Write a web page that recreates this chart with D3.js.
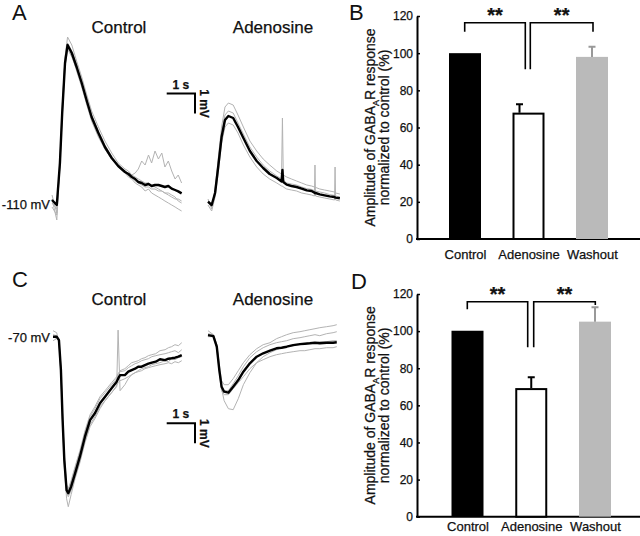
<!DOCTYPE html>
<html><head><meta charset="utf-8">
<script src="https://cdn.jsdelivr.net/npm/d3@7"></script>
<style>
html,body{margin:0;padding:0;background:#fff;}
svg{display:block;font-family:"Liberation Sans",Arial,sans-serif;}
svg text{fill:#111;stroke:#111;stroke-width:0.25px;}
</style></head>
<body><svg id="c" width="640" height="536"></svg>
<script>
// ---------- DATA ----------
// Panel A control (time s, mV relative to -110 mV)
const tAc = [0,0.17,0.28,0.36,0.46,0.55,0.70,0.87,1.05,1.23,1.40,1.64,1.87,2.11,2.34,2.58,2.70,2.82,2.94,3.05,3.17,3.29,3.41,3.52,3.64,3.76,3.88,3.99,4.11,4.23,4.35,4.46,4.58];
const meanAc = [0.15,-0.1,2.0,4.5,7.0,7.9,7.5,6.8,6.0,5.1,4.3,3.5,2.8,2.25,1.85,1.55,1.45,1.3,1.2,1.05,1.0,0.9,0.95,0.85,0.9,0.9,0.85,0.8,0.85,0.72,0.65,0.58,0.48];
const grayAc1 = [0.4,-0.5,1.8,4.6,7.3,8.3,7.9,7.1,6.3,5.4,4.6,3.8,3.1,2.5,2.0,1.7,1.6,1.4,1.3,1.2,1.1,1.0,1.0,0.9,0.8,0.7,0.6,0.5,0.4,0.3,0.2,0.2,0.1];
const grayAc2 = [0.2,-0.85,2.1,4.4,6.9,7.8,7.4,6.6,5.8,4.9,4.1,3.3,2.7,2.2,1.9,1.6,1.5,1.4,1.5,1.7,2.1,1.9,2.4,2.0,2.6,2.2,2.5,1.8,2.1,1.6,1.2,1.4,1.0];
const grayAc3 = [-0.2,-0.6,2.2,4.8,7.2,8.0,7.6,6.9,6.1,5.2,4.4,3.6,2.9,2.3,1.9,1.5,1.3,1.2,1.0,0.9,0.8,0.6,0.7,0.5,0.4,0.3,0.2,0.1,0.0,-0.1,-0.2,-0.3,-0.4];
const grayAc4 = [0.0,-0.3,1.9,4.3,6.8,7.7,7.3,6.7,5.9,5.0,4.2,3.4,2.7,2.2,1.8,1.5,1.4,1.3,1.1,1.0,0.9,0.8,0.8,0.7,0.7,0.6,0.6,0.5,0.5,0.4,0.3,0.1,0.0];

// Panel A adenosine
const tAa = [0,0.13,0.25,0.36,0.48,0.60,0.72,0.89,1.06,1.25,1.48,1.72,1.95,2.18,2.43,2.60,2.63,2.66,2.78,2.95,3.13,3.31,3.49,3.66,3.76,3.78,3.80,3.95,4.12,4.30,4.47,4.49,4.51,4.66];
const meanAa = [0.07,-0.1,0.5,1.8,3.3,4.15,4.35,4.25,3.8,3.25,2.6,2.1,1.75,1.45,1.25,1.08,1.65,1.05,0.92,0.85,0.8,0.72,0.63,0.6,0.52,0.5,0.5,0.43,0.38,0.33,0.3,0.28,0.27,0.24];
const grayAa1 = [0.2,-0.3,0.7,2.2,3.8,4.8,5.0,4.9,4.4,3.8,3.1,2.6,2.2,1.9,1.6,1.45,4.25,1.4,1.3,1.2,1.1,1.0,0.9,0.85,0.8,0.8,0.78,0.7,0.65,0.6,0.55,0.55,0.5,0.45];
const grayAa2 = [-0.1,-0.4,0.3,1.5,3.0,3.8,4.0,3.9,3.5,2.9,2.3,1.8,1.45,1.2,1.0,0.85,0.85,0.8,0.7,0.65,0.6,0.5,0.45,0.4,0.35,1.9,0.35,0.3,0.25,0.2,0.15,1.8,0.15,0.1];
const grayAa3 = [0.0,-0.2,0.6,2.0,3.5,4.4,4.6,4.5,4.0,3.45,2.8,2.3,1.9,1.6,1.35,1.2,1.2,1.15,1.0,0.95,0.9,0.8,0.72,0.68,0.62,0.6,0.6,0.55,0.5,0.42,0.38,0.38,0.35,0.3];

// Panel C control (mV relative to -70 mV)
const tCc = [0,0.13,0.21,0.28,0.34,0.40,0.48,0.54,0.64,0.78,0.95,1.13,1.31,1.48,1.66,1.84,2.07,2.25,2.30,2.37,2.54,2.66,2.78,2.90,3.01,3.13,3.25,3.37,3.49,3.63,3.78,3.96,4.08,4.19,4.31,4.43,4.55];
const meanCc = [0,0,-0.17,-1.67,-4.17,-6.17,-7.67,-7.83,-7.5,-6.83,-6.0,-5.0,-4.17,-3.83,-3.33,-3.0,-2.58,-2.25,-2.1,-1.92,-1.92,-1.75,-1.67,-1.6,-1.5,-1.5,-1.42,-1.35,-1.3,-1.25,-1.13,-1.17,-1.1,-1.08,-1.05,-1.0,-0.92];
const grayCc1 = [0.3,0.2,-0.3,-1.9,-4.4,-6.5,-8.1,-8.5,-7.9,-7.1,-6.3,-5.3,-4.5,-4.1,-3.6,-3.2,-2.8,-2.5,0.33,-2.7,-2.4,-2.1,-1.9,-1.8,-1.7,-1.6,-1.55,-1.5,-1.4,-1.35,-1.3,-1.2,-1.25,-1.1,-1.15,-1.05,-1.0];
const grayCc2 = [-0.2,-0.1,-0.1,-1.5,-3.9,-5.9,-7.4,-7.6,-7.2,-6.5,-5.7,-4.7,-3.9,-3.5,-3.0,-2.7,-2.3,-2.0,-1.85,-1.7,-1.6,-1.45,-1.3,-1.25,-1.2,-1.1,-1.05,-0.95,-0.9,-0.85,-0.7,-0.65,-0.55,-0.5,-0.4,-0.45,-0.3];
const grayCc3 = [0.1,0.05,-0.25,-1.8,-4.3,-6.3,-7.8,-8.0,-7.7,-7.0,-6.2,-5.2,-4.4,-4.0,-3.5,-3.2,-2.8,-2.45,-2.3,-2.2,-2.1,-2.0,-1.9,-1.8,-1.75,-1.7,-1.6,-1.55,-1.5,-1.45,-1.4,-1.35,-1.3,-1.35,-1.25,-1.3,-1.2];
const grayCc4 = [0.0,-0.1,-0.2,-1.6,-4.0,-6.0,-7.5,-7.7,-7.3,-6.6,-5.8,-4.8,-4.0,-3.6,-3.1,-2.8,-2.4,-2.1,-1.9,-1.75,-1.7,-1.55,-1.45,-1.35,-1.3,-1.2,-1.15,-1.1,-1.0,-0.95,-0.9,-0.85,-0.8,-0.75,-0.7,-0.8,-0.65];

// Panel C adenosine
const tCa = [0,0.19,0.31,0.40,0.48,0.57,0.72,0.89,1.07,1.25,1.48,1.72,1.95,2.19,2.42,2.60,2.78,3.01,3.25,3.42,3.60,3.78,3.95,4.19,4.42,4.55];
const meanCa = [0.08,0.03,-0.5,-1.67,-2.5,-2.75,-2.8,-2.5,-2.17,-1.75,-1.33,-1.0,-0.83,-0.7,-0.58,-0.55,-0.5,-0.42,-0.37,-0.35,-0.33,-0.3,-0.33,-0.3,-0.3,-0.28];
const grayCa1 = [0.15,0.1,-0.4,-1.6,-2.6,-3.2,-3.6,-3.65,-3.1,-2.4,-1.8,-1.3,-1.0,-0.8,-0.65,-0.55,-0.5,-0.45,-0.4,-0.35,-0.3,-0.3,-0.25,-0.25,-0.2,-0.2];
const grayCa2 = [0.3,0.1,-0.4,-1.4,-2.2,-2.4,-2.4,-2.1,-1.7,-1.3,-0.9,-0.6,-0.4,-0.3,-0.1,0.0,0.1,0.2,0.25,0.3,0.35,0.4,0.45,0.5,0.55,0.6];
const grayCa3 = [0.0,0.0,-0.6,-1.8,-2.7,-2.9,-2.9,-2.6,-2.3,-2.0,-1.6,-1.3,-1.15,-1.0,-0.9,-0.85,-0.8,-0.75,-0.7,-0.7,-0.65,-0.6,-0.6,-0.55,-0.55,-0.5];
const grayCa4 = [0.1,0.05,-0.5,-1.7,-2.5,-2.7,-2.7,-2.35,-1.95,-1.5,-1.05,-0.75,-0.55,-0.4,-0.3,-0.25,-0.2,-0.1,-0.05,0.0,0.05,0.1,0.05,0.15,0.2,0.25];

// Bar charts
const categories = ["Control","Adenosine","Washout"];
const valuesB = [100, 68, 98];
const errorsB = [0, 4.5, 5.5];
const valuesD = [100.2, 69.3, 105.1];
const errorsD = [0, 5.8, 7.7];
const yTicks = [0,20,40,60,80,100,120];
const sigLabel = "**";

// ---------- DRAW ----------
const svg = d3.select("#c");
const PX_S = 28.3, PX_MV = 20;
const GRAY = "#b3b3b3";

function trace(t, vals, x0, base, color, w){
  const xs = d3.scaleLinear().domain([0,1]).range([x0, x0+PX_S]);
  const ys = d3.scaleLinear().domain([0,1]).range([base, base-PX_MV]);
  const line = d3.line().x((d,i)=>xs(t[i])).y(d=>ys(d));
  svg.append("path").attr("d", line(vals)).attr("fill","none")
    .attr("stroke", color).attr("stroke-width", w).attr("stroke-linejoin","round");
}
function traceSet(t, mean, grays, x0, base){
  grays.forEach(g=>trace(t, g, x0, base, GRAY, 1));
  trace(t, mean, x0, base, "#000", 2.4);
}
traceSet(tAc, meanAc, [grayAc1,grayAc2,grayAc3,grayAc4], 52, 203);
traceSet(tAa, meanAa, [grayAa1,grayAa2,grayAa3], 208, 203);
traceSet(tCc, meanCc, [grayCc1,grayCc2,grayCc3,grayCc4], 53, 336.7);
traceSet(tCa, meanCa, [grayCa1,grayCa2,grayCa3,grayCa4], 208, 336.7);

function scaleBar(x0, y0){
  const xs = d3.scaleLinear().domain([0,1]).range([x0, x0+PX_S]);
  const ys = d3.scaleLinear().domain([0,1]).range([y0, y0+PX_MV]);
  svg.append("path").attr("d", `M${xs(0)},${ys(0)}H${xs(1)}V${ys(1)}`)
    .attr("fill","none").attr("stroke","#000").attr("stroke-width",2);
  svg.append("text").attr("x",(xs(0)+xs(1))/2).attr("y",ys(0)-5)
    .attr("text-anchor","middle").attr("font-size",12).attr("font-weight","bold").text("1 s");
  svg.append("text").attr("transform",`translate(${xs(1)+5},${(ys(0)+ys(1))/2}) rotate(90)`)
    .attr("text-anchor","middle").attr("font-size",12).attr("font-weight","bold").text("1 mV");
}
scaleBar(166.7, 93.5);
scaleBar(166.7, 423.3);

function txt(x,y,s,size,anchor,weight){
  return svg.append("text").attr("x",x).attr("y",y).attr("font-size",size)
    .attr("text-anchor",anchor||"start").attr("font-weight",weight||"normal").text(s);
}
txt(12,20,"A",22).style("stroke-width","0"); txt(12,287,"C",22).style("stroke-width","0");
txt(349,20,"B",22).style("stroke-width","0"); txt(351,289,"D",22).style("stroke-width","0");
txt(119,33,"Control",17,"middle"); txt(273,33,"Adenosine",17,"middle");
txt(119,305,"Control",17,"middle"); txt(273,305,"Adenosine",17,"middle");
txt(50,209,"-110 mV",13,"end");
txt(50,342,"-70 mV",13,"end");

function barPanel(top, bottom, xRange, values, errors, errOffset, bracket){
  const y = d3.scaleLinear().domain([0,120]).range([bottom, top]);
  const x = d3.scalePoint().domain(categories).range(xRange);
  const bw = 32;
  const g = svg.append("g");
  const ax = g.append("g").attr("transform",`translate(417,0)`)
    .call(d3.axisLeft(y).tickValues(yTicks).tickSizeInner(-3).tickSizeOuter(0).tickPadding(4));
  ax.select(".domain").attr("stroke-width",2);
  ax.selectAll(".tick line").attr("stroke-width",1.5);
  ax.selectAll("text").attr("font-size",12).attr("font-family","Liberation Sans, Arial, sans-serif");
  g.append("line").attr("x1",416).attr("x2",640).attr("y1",y(0)).attr("y2",y(0))
    .attr("stroke","#000").attr("stroke-width",2);
  const fills = ["#000","#fff","#bababa"];
  categories.forEach((c,i)=>{
    g.append("rect").attr("x",x(c)-bw/2+(i===1?1:0)).attr("y",y(values[i])+(i===1?1:0))
      .attr("width",bw-(i===1?2:0)).attr("height",y(0)-y(values[i])-(i===1?1:0))
      .attr("fill",fills[i]).attr("stroke",i===1?"#000":"none").attr("stroke-width",2);
    if(errors[i]>0){
      const ex = x(c)+errOffset[i];
      const col = i===2?"#999":"#000";
      g.append("path").attr("d",`M${ex},${y(values[i])}V${y(values[i]+errors[i])}M${ex-3.5},${y(values[i]+errors[i])}H${ex+3.5}`)
        .attr("stroke",col).attr("stroke-width",2).attr("fill","none");
    }
  });
  // x labels
  const xa = g.append("g").attr("transform",`translate(0,${bottom})`)
    .call(d3.axisBottom(x).tickSize(0).tickPadding(bracket.labPad));
  xa.select(".domain").remove();
  xa.selectAll("text").attr("font-size",13).attr("font-family","Liberation Sans, Arial, sans-serif");
  // significance brackets
  const b = bracket;
  g.append("path").attr("d",`M${b.l1},${b.lt}V${b.top}H${b.l2}V${b.mid}`).attr("fill","none").attr("stroke","#000").attr("stroke-width",1.6);
  g.append("path").attr("d",`M${b.r1},${b.mid}V${b.top}H${b.r2}V${b.rt}`).attr("fill","none").attr("stroke","#000").attr("stroke-width",1.6);
  g.append("text").attr("x",(b.l1+b.l2)/2).attr("y",b.top-1).attr("text-anchor","middle")
    .attr("font-size",20).attr("font-weight","bold").text(sigLabel);
  g.append("text").attr("x",(b.r1+b.r2)/2).attr("y",b.top-1).attr("text-anchor","middle")
    .attr("font-size",20).attr("font-weight","bold").text(sigLabel);
  // y label
  const cy = (top+bottom)/2;
  g.append("text").attr("transform",`translate(375,${cy}) rotate(-90)`).attr("text-anchor","middle")
    .attr("font-size",14).html('Amplitude of GABA<tspan font-size="9" dy="4">A</tspan><tspan dy="-4">R response</tspan>');
  g.append("text").attr("transform",`translate(389,${cy}) rotate(-90)`).attr("text-anchor","middle")
    .attr("font-size",14).text("normalized to control (%)");
}
barPanel(16, 239, [465, 592], valuesB, errorsB, [0,-9,0],
  {l1:464.7,l2:525.3,lt:31.7,top:22.7,mid:69.3,r1:530.3,r2:593,rt:31.7,labPad:11});
barPanel(294, 516.7, [467.5, 595], valuesD, errorsD, [0,0,0],
  {l1:467.3,l2:527.7,lt:309.3,top:301.7,mid:347.3,r1:533.7,r2:595.3,rt:305,labPad:5});
</script></body></html>
